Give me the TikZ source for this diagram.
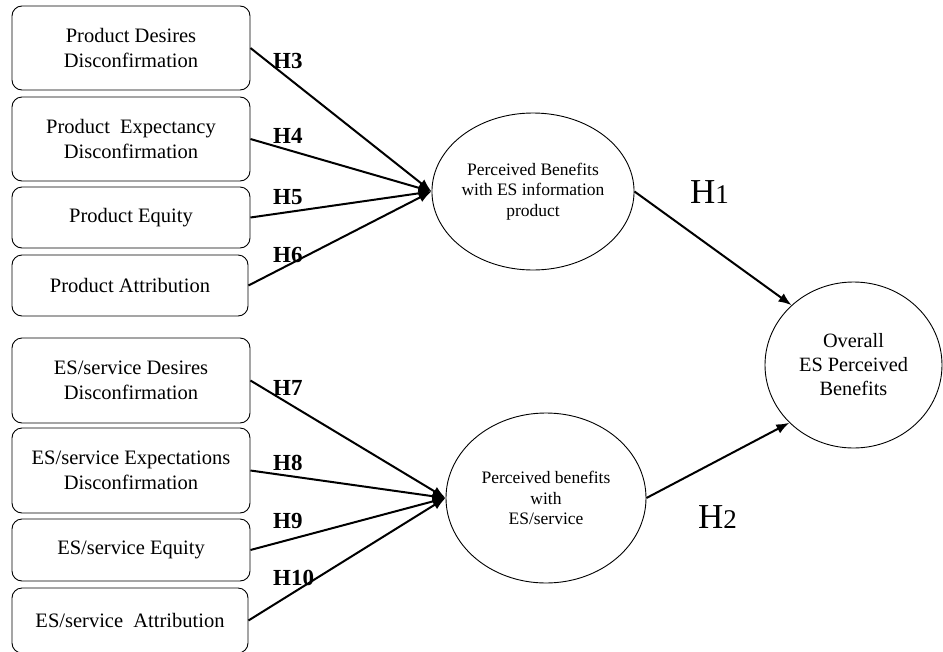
\documentclass[tikz,border=0pt]{standalone}
\usepackage{fontspec}
\setmainfont{Liberation Serif}
\usetikzlibrary{shapes.geometric,arrows.meta}
\begin{document}
\begin{tikzpicture}[x=1pt,y=-1pt,
 box/.style={draw,rounded corners=10pt,line width=0.9pt,inner sep=0pt,align=center,font=\fontsize{20.5}{24.5}\selectfont},
 oval/.style={draw,ellipse,line width=0.9pt,inner sep=0pt,align=center},
 hyp/.style={font=\bfseries\fontsize{23}{24}\selectfont,anchor=base west,inner sep=0pt},
 bighyp/.style={anchor=base west,inner sep=0pt},
 conn/.style={line width=2pt,-{Latex[length=13pt,width=10pt]}},
]
\fill[white] (0,0) rectangle (943,651);
\useasboundingbox (0,0) rectangle (943,651);

% left boxes, upper group
\node[box,minimum width=238pt,minimum height=84pt] (b1) at (131,48) {Product Desires\\Disconfirmation};
\node[box,minimum width=238pt,minimum height=84pt] (b2) at (131,139) {Product\ \ Expectancy\\Disconfirmation};
\node[box,minimum width=238pt,minimum height=61pt] (b3) at (131,217.5) {Product Equity};
\node[box,minimum width=236pt,minimum height=61pt] (b4) at (130,285.5) {Product Attribution};

% left boxes, lower group
\node[box,minimum width=238pt,minimum height=85pt] (b5) at (131,380.5) {ES/service Desires\\Disconfirmation};
\node[box,minimum width=238pt,minimum height=85pt] (b6) at (131,470.5) {ES/service Expectations\\Disconfirmation};
\node[box,minimum width=238pt,minimum height=62pt] (b7) at (131,550) {ES/service Equity};
\node[box,minimum width=236pt,minimum height=65pt] (b8) at (130,620.5) {ES/service\ \ Attribution};

% ellipses
\node[oval,minimum width=192pt,minimum height=157pt,font=\fontsize{17.5}{20.5}\selectfont] (e1) at (533,191.5) {Perceived Benefits\\with ES information\\product};
\node[oval,minimum width=200pt,minimum height=170pt,font=\fontsize{17.5}{20.5}\selectfont] (e2) at (546,498) {Perceived benefits\\with\\ES/service};
\node[oval,minimum width=177pt,minimum height=166pt,font=\fontsize{20.3}{24}\selectfont] (e3) at (853.5,365) {Overall\\ES Perceived\\Benefits};

% connectors
\draw[conn] (b1.east) -- (e1.west);
\draw[conn] (b2.east) -- (e1.west);
\draw[conn] (b3.east) -- (e1.west);
\draw[conn] (b4.east) -- (e1.west);
\draw[conn] (b5.east) -- (e2.west);
\draw[conn] (b6.east) -- (e2.west);
\draw[conn] (b7.east) -- (e2.west);
\draw[conn] (b8.east) -- (e2.west);
\draw[conn] (e1.east) -- (e3.136);
\draw[conn] (e2.east) -- (e3.222);

% hypothesis labels
\node[hyp] (h3) at (273,68) {H3};
\node[hyp] (h4) at (273,143) {H4};
\node[hyp] (h5) at (273,204) {H5};
\node[hyp] (h6) at (273,262) {H6};
\node[hyp] (h7) at (273,395) {H7};
\node[hyp] (h8) at (273,470) {H8};
\node[hyp] (h9) at (273,528) {H9};
\node[hyp] (h10) at (273,585) {H10};
\node[bighyp] (h1) at (690,203) {\fontsize{35}{36}\selectfont H\fontsize{27}{28}\selectfont 1};
\node[bighyp] (h2) at (698,528) {\fontsize{35}{36}\selectfont H\fontsize{27}{28}\selectfont 2};
\end{tikzpicture}
\end{document}
